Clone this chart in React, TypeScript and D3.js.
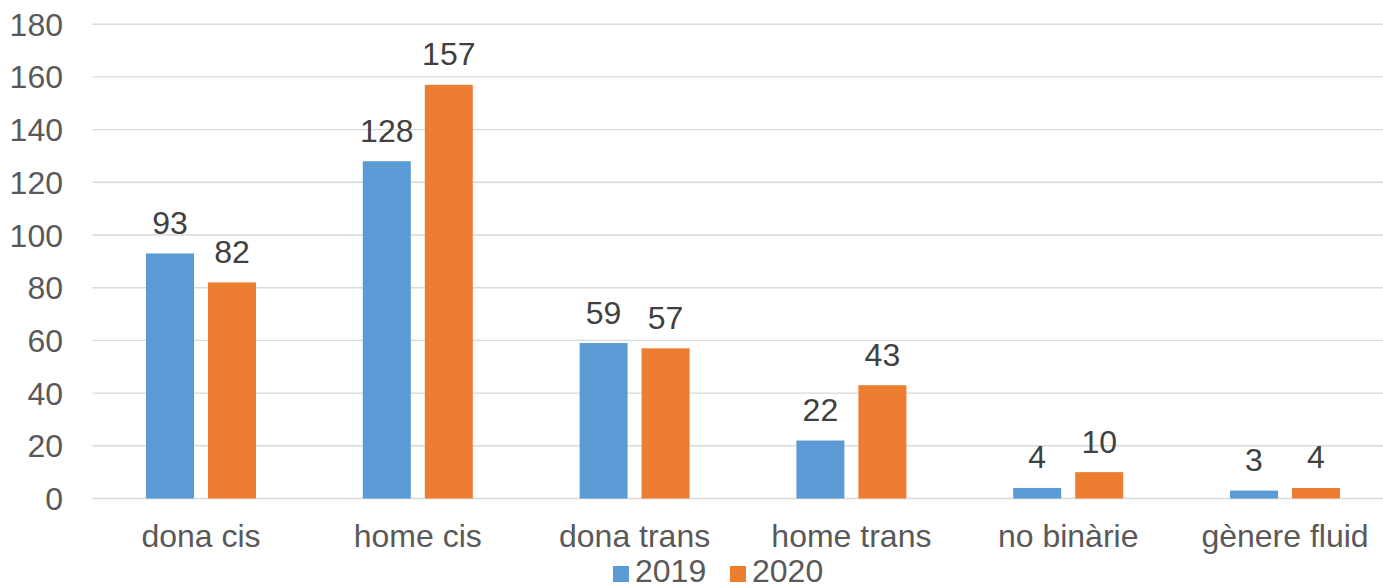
import React from "react";
import * as d3 from "d3";

const categories = ["dona cis", "home cis", "dona trans", "home trans", "no binàrie", "gènere fluid"];
const seriesNames = ["2019", "2020"];
const values2019 = [93, 128, 59, 22, 4, 3];
const values2020 = [82, 157, 57, 43, 10, 4];
const yTicks = [0, 20, 40, 60, 80, 100, 120, 140, 160, 180];
const colors = ["#5B9BD5", "#ED7D31"];

const W = 1383;
const H = 584;
const FONT = "'Liberation Sans', Arial, sans-serif";

export default function App() {
  const series = [values2019, values2020];
  const left = 92.6;
  const band = 216.8;
  const x = d3.scaleBand<string>().domain(categories).range([left, left + band * categories.length]).padding(0);
  const xs = d3.scaleBand<string>().domain(seriesNames).range([53.4, 163.4]).paddingInner(0.226).paddingOuter(0);
  const y = d3.scaleLinear().domain([0, 180]).range([498.5, 24.2]);

  return (
    <svg width={W} height={H} style={{ position: "absolute", left: 0, top: 0, background: "#fff" }} fontFamily={FONT}>
      {yTicks.map((t) => (
        <g key={t}>
          <line x1={left} x2={left + band * 6} y1={y(t)} y2={y(t)} stroke="#D9D9D9" strokeWidth={1.4} />
          <text x={63} y={y(t) + 11.5} textAnchor="end" fontSize={32} fill="#595959">{t}</text>
        </g>
      ))}
      {categories.map((c, i) => (
        <g key={c}>
          {series.map((vals, si) => {
            const bx = (x(c) as number) + (xs(seriesNames[si]) as number);
            const bw = xs.bandwidth();
            return (
              <g key={si}>
                <rect x={bx} y={y(vals[i])} width={bw} height={y(0) - y(vals[i])} fill={colors[si]} />
                <text x={bx + bw / 2} y={y(vals[i]) - 19.5} textAnchor="middle" fontSize={32} fill="#404040">{vals[i]}</text>
              </g>
            );
          })}
          <text x={(x(c) as number) + band / 2} y={546.5} textAnchor="middle" fontSize={32} fill="#595959">{c}</text>
        </g>
      ))}
      {seriesNames.map((s, si) => {
        const lx = [613, 730][si];
        return (
          <g key={s}>
            <rect x={lx} y={566} width={16} height={16} fill={colors[si]} />
            <text x={lx + 22} y={582} fontSize={32} fill="#595959">{s}</text>
          </g>
        );
      })}
    </svg>
  );
}
